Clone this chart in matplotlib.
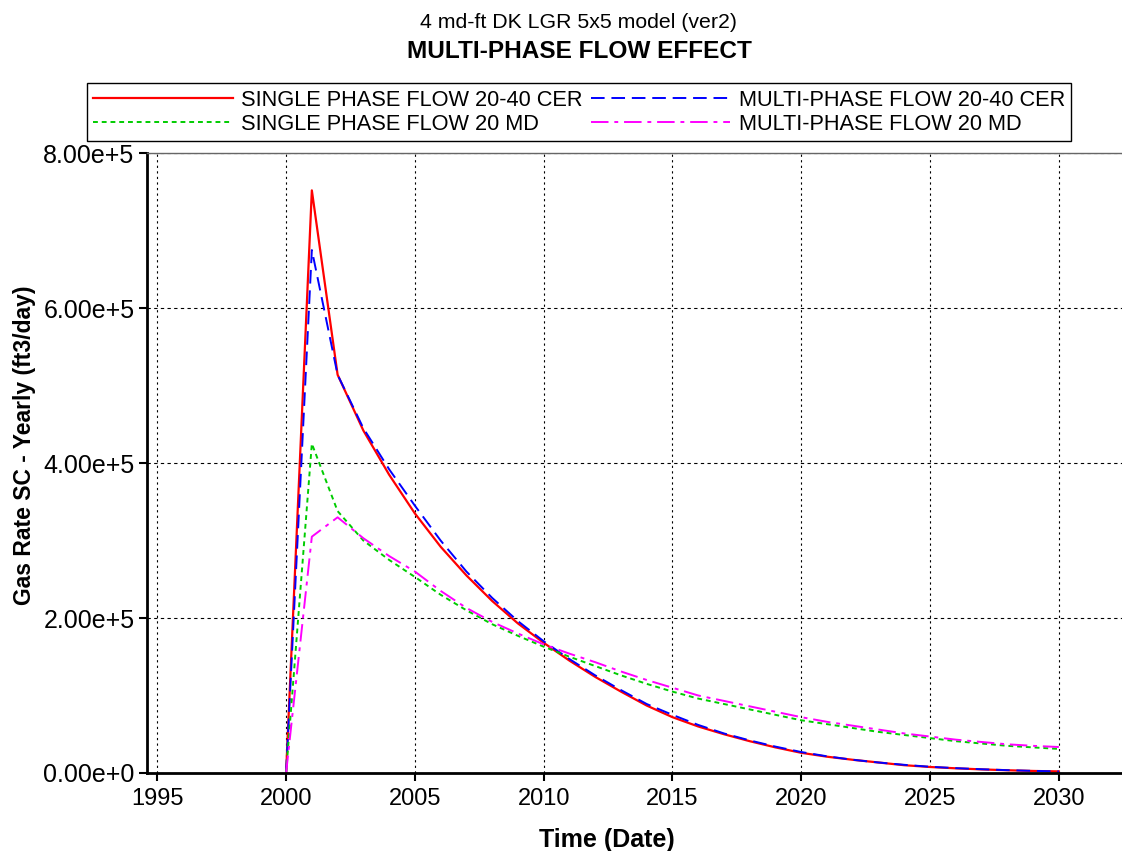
import matplotlib
matplotlib.use('Agg')
import matplotlib.pyplot as plt
from matplotlib.ticker import FuncFormatter

# yearly time axis
years = list(range(2000, 2031))

# gas rate series (ft3/day)
single_cer = [0, 7.52e5, 5.14e5, 4.42e5, 3.85e5, 3.35e5, 2.92e5, 2.55e5, 2.22e5, 1.93e5,
              1.68e5, 1.45e5, 1.24e5, 1.05e5, 8.7e4, 7.2e4, 6.0e4, 5.0e4, 4.1e4, 3.3e4,
              2.6e4, 2.1e4, 1.7e4, 1.35e4, 1.0e4, 7.7e3, 6.0e3, 4.6e3, 3.5e3, 2.6e3, 2.0e3]
multi_cer = [0, 6.75e5, 5.14e5, 4.45e5, 3.92e5, 3.45e5, 3.0e5, 2.6e5, 2.26e5, 1.96e5,
             1.70e5, 1.47e5, 1.26e5, 1.07e5, 8.9e4, 7.5e4, 6.2e4, 5.1e4, 4.2e4, 3.4e4,
             2.7e4, 2.15e4, 1.7e4, 1.35e4, 1.05e4, 8.0e3, 6.2e3, 4.8e3, 3.6e3, 2.7e3, 2.0e3]
single_md = [0, 4.25e5, 3.38e5, 3.0e5, 2.75e5, 2.53e5, 2.3e5, 2.1e5, 1.92e5, 1.77e5,
             1.63e5, 1.5e5, 1.38e5, 1.26e5, 1.15e5, 1.05e5, 9.6e4, 8.9e4, 8.2e4, 7.5e4,
             6.8e4, 6.3e4, 5.8e4, 5.3e4, 4.9e4, 4.5e4, 4.1e4, 3.8e4, 3.5e4, 3.3e4, 3.1e4]
multi_md = [0, 3.05e5, 3.3e5, 3.03e5, 2.8e5, 2.6e5, 2.35e5, 2.13e5, 1.95e5, 1.8e5,
            1.66e5, 1.54e5, 1.43e5, 1.31e5, 1.2e5, 1.1e5, 1.0e5, 9.3e4, 8.6e4, 7.9e4,
            7.2e4, 6.6e4, 6.1e4, 5.6e4, 5.1e4, 4.7e4, 4.3e4, 4.0e4, 3.7e4, 3.5e4, 3.35e4]

x_ticks = [1995, 2000, 2005, 2010, 2015, 2020, 2025, 2030]
y_ticks = [0, 2e5, 4e5, 6e5, 8e5]


def sci_fmt(v, pos):
    # 8.00e+5 style labels
    mant, exp = f"{v:.2e}".split('e')
    return f"{mant}e{exp[0]}{int(exp[1:])}"


def main():
    plt.rcParams['font.family'] = ['Liberation Sans', 'DejaVu Sans']
    fig = plt.figure(figsize=(11.22, 8.51), dpi=100)
    ax = fig.add_axes([0.131, 0.0917, 0.869, 0.7283])

    l1, = ax.plot(years, single_cer, color='#ff0000', lw=1.6, label='SINGLE PHASE FLOW 20-40 CER')
    l2, = ax.plot(years, multi_cer, color='#0000ff', lw=1.4, dashes=(7, 3.5), label='MULTI-PHASE FLOW 20-40 CER')
    l3, = ax.plot(years, single_md, color='#00cc00', lw=1.4, dashes=(2.5, 2), label='SINGLE PHASE FLOW 20 MD')
    l4, = ax.plot(years, multi_md, color='#ff00ff', lw=1.4, dashes=(9, 3, 2, 3), label='MULTI-PHASE FLOW 20 MD')

    ax.set_xlim(1994.6, 2032.45)
    ax.set_ylim(0, 8e5)
    ax.set_xticks(x_ticks)
    ax.set_yticks(y_ticks)
    ax.yaxis.set_major_formatter(FuncFormatter(sci_fmt))
    ax.tick_params(axis='both', direction='out', length=6, width=1.5, color='black')
    ax.tick_params(axis='x', labelsize=17, pad=5)
    ax.tick_params(axis='y', labelsize=18, pad=3)

    ax.grid(True, axis='x', color='black', linestyle=(0, (2, 3)), lw=0.8)
    ax.grid(True, axis='y', color='black', linestyle=(0, (3, 3)), lw=0.8)

    for side in ['left', 'bottom']:
        ax.spines[side].set_linewidth(2)
    ax.spines['right'].set_visible(False)
    ax.spines['top'].set_color('#666666')
    ax.spines['top'].set_linewidth(1)

    ax.set_xlabel('Time (Date)', fontsize=18, fontweight='bold')
    ax.set_ylabel('Gas Rate SC - Yearly (ft3/day)', fontsize=16.5, fontweight='bold')
    ax.xaxis.set_label_coords(0.472, -0.088)
    ax.yaxis.set_label_coords(-0.114, 0.529)

    fig.text(0.516, 0.973, '4 md-ft DK LGR 5x5 model (ver2)', ha='center', va='center', fontsize=15.3)
    fig.text(0.516, 0.939, 'MULTI-PHASE FLOW EFFECT', ha='center', va='center', fontsize=17.6, fontweight='bold')

    # legend filled column-wise, so order handles to read row by row
    leg = fig.legend(handles=[l1, l3, l2, l4], ncol=2, loc='center',
                     bbox_to_anchor=(0.516, 0.868), fontsize=15.7, handlelength=6.4,
                     handletextpad=0.37, columnspacing=0.4, labelspacing=0.14,
                     borderpad=0.3, borderaxespad=0, fancybox=False, framealpha=1)
    leg.get_frame().set_edgecolor('black')
    leg.get_frame().set_linewidth(1)

    fig.savefig('out.png', dpi=100)


if __name__ == '__main__':
    main()
